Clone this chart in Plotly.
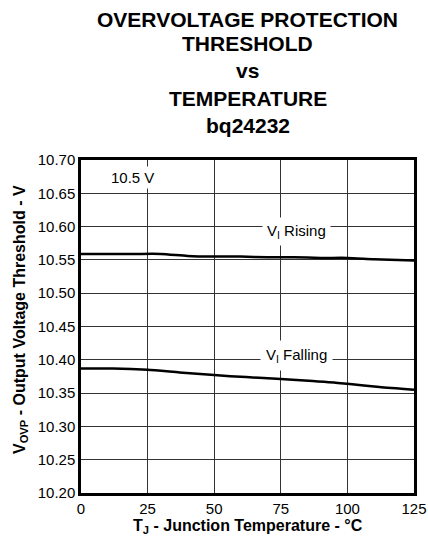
import plotly.graph_objects as go

# Data
temp_rising = [0, 10, 20, 30, 40, 50, 60, 70, 80, 90, 100, 110, 125]
v_rising = [10.559, 10.559, 10.559, 10.559, 10.556, 10.555, 10.555, 10.554, 10.554, 10.553, 10.553, 10.551, 10.549]

temp_falling = [0, 12, 25, 37, 50, 62, 75, 87, 95, 100, 112, 125]
v_falling = [10.387, 10.387, 10.385, 10.381, 10.377, 10.374, 10.371, 10.368, 10.366, 10.364, 10.359, 10.355]

x_ticks = [0, 25, 50, 75, 100, 125]
y_ticks = [10.20, 10.25, 10.30, 10.35, 10.40, 10.45, 10.50, 10.55, 10.60, 10.65, 10.70]

title_lines = ["OVERVOLTAGE PROTECTION", "THRESHOLD", "vs", "TEMPERATURE", "bq24232"]
title_px = [20, 43, 71, 98, 125]

FONT = "Liberation Sans, Arial, sans-serif"

fig = go.Figure()
fig.add_trace(go.Scatter(x=temp_rising, y=v_rising, mode="lines",
                         line=dict(color="black", width=2.5, shape="spline", smoothing=0.6),
                         showlegend=False, hoverinfo="skip"))
fig.add_trace(go.Scatter(x=temp_falling, y=v_falling, mode="lines",
                         line=dict(color="black", width=2.5, shape="spline", smoothing=0.6),
                         showlegend=False, hoverinfo="skip"))

W, H = 428, 539
# target plot area in page pixels: x 81..414, y 160..493
left, top = 81, 160
right = W - 414
bottom = H - 493
plot_h = H - top - bottom
plot_w = W - left - right

def py_to_paper(py):
    return (H - bottom - py) / plot_h

def px_to_paper(px):
    return (px - left) / plot_w

annotations = []
for txt, py in zip(title_lines, title_px):
    annotations.append(dict(text="<b>%s</b>" % txt, xref="paper", yref="paper",
                            x=0.5, y=py_to_paper(py), xanchor="center", yanchor="middle",
                            showarrow=False, font=dict(size=21, color="black", family=FONT)))

annotations.append(dict(text="<b>T<sub>J</sub> - Junction Temperature - °C</b>", xref="paper", yref="paper",
                        x=0.5, y=py_to_paper(526), xanchor="center", yanchor="middle",
                        showarrow=False, font=dict(size=16, color="black", family=FONT)))
annotations.append(dict(text="<b>V<sub>OVP</sub> - Output Voltage Threshold - V</b>", xref="paper", yref="paper",
                        x=px_to_paper(20), y=py_to_paper(320), xanchor="center", yanchor="middle",
                        textangle=-90, showarrow=False, font=dict(size=16, color="black", family=FONT)))

annotations.append(dict(text="10.5 V", x=19.5, y=10.673, xref="x", yref="y", showarrow=False,
                        bgcolor="white", borderpad=2, font=dict(size=15, color="black", family=FONT)))
annotations.append(dict(text="V<sub>I</sub> Rising", x=81, y=10.592, xref="x", yref="y", showarrow=False,
                        bgcolor="white", borderpad=4, font=dict(size=15, color="black", family=FONT)))
annotations.append(dict(text="V<sub>I</sub> Falling", x=81, y=10.407, xref="x", yref="y", showarrow=False,
                        bgcolor="white", borderpad=5, font=dict(size=15, color="black", family=FONT)))

fig.update_layout(
    width=W, height=H,
    margin=dict(l=left, r=right, t=top, b=bottom, autoexpand=False),
    paper_bgcolor="white", plot_bgcolor="white",
    font=dict(family=FONT, color="black", size=15),
    annotations=annotations,
    xaxis=dict(range=[0, 125], tickvals=x_ticks, ticktext=[str(v) for v in x_ticks],
               showgrid=True, gridcolor="#333333", gridwidth=1, automargin=False,
               showline=True, linecolor="black", linewidth=2.5, mirror=True,
               ticks="", zeroline=False, tickfont=dict(size=15)),
    yaxis=dict(range=[10.20, 10.70], tickvals=y_ticks, ticktext=["%.2f" % v for v in y_ticks],
               showgrid=True, gridcolor="#333333", gridwidth=1, automargin=False,
               showline=True, linecolor="black", linewidth=2.5, mirror=True,
               ticks="", zeroline=False, tickfont=dict(size=15)),
)

fig.write_html("out.html", config={"displayModeBar": False},
               post_script="document.body.style.margin='0';document.body.style.overflow='hidden';")
